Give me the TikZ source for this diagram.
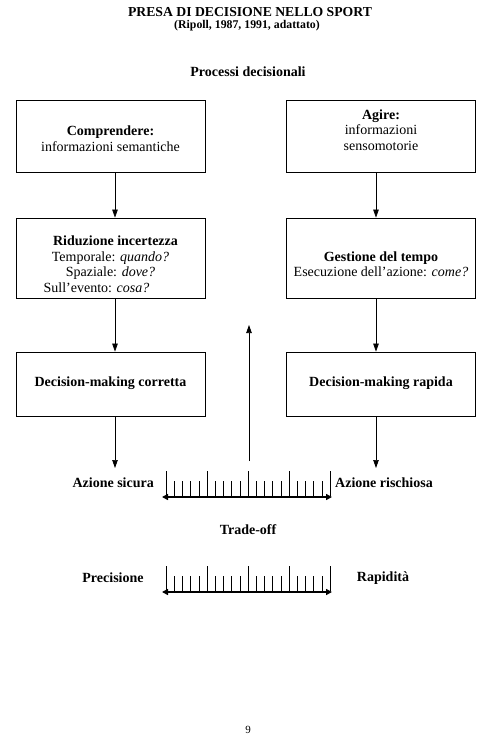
\documentclass[tikz,border=0pt]{standalone}
\usepackage{fontspec}
\setmainfont{Liberation Serif}
\usetikzlibrary{arrows.meta}
\tikzset{
  boxn/.style={draw, line width=0.8pt, minimum width=189pt, minimum height=#1, inner sep=0pt},
  txt/.style={align=center, font=\fontsize{14}{15.5}\selectfont, inner sep=0pt},
  btxt/.style={align=center, font=\fontsize{14}{15.5}\selectfont\bfseries, inner sep=0pt},
  arr/.style={line width=0.7pt, -{Triangle[length=8pt,width=5.5pt]}},
  darr/.style={line width=1.6pt, {Triangle[length=6pt,width=6pt]}-{Triangle[length=6pt,width=6pt]}},
  tick/.style={line width=0.6pt}
}
\begin{document}
\begin{tikzpicture}[x=1pt,y=-1pt]
\useasboundingbox (0,0) rectangle (487,741);
% titles
\node[btxt, font=\fontsize{13.7}{15}\selectfont\bfseries] (title) at (250,12) {PRESA DI DECISIONE NELLO SPORT};
\node[btxt, font=\fontsize{11.8}{13}\selectfont\bfseries] (sub) at (247,25.5) {(Ripoll, 1987, 1991, adattato)};
\node[btxt] (proc) at (248,72) {Processi decisionali};
% boxes
\node[boxn=72pt] (b1) at (110.5,136) {};
\node[boxn=72pt] (r1) at (381,136) {};
\node[boxn=80pt] (b2) at (110.5,258) {};
\node[boxn=80pt] (r2) at (381,258) {};
\node[boxn=64pt] (b3) at (110.5,384) {};
\node[boxn=64pt] (r3) at (381,384) {};
% box texts
\node[txt] (t1) at (110.5,138.5) {\textbf{Comprendere:}\\informazioni semantiche};
\node[txt] (u1) at (381,130) {\textbf{Agire:}\\informazioni\\sensomotorie};
\node[txt] (t2) at (110.5,264) {\hspace*{10pt}\textbf{Riduzione incertezza}\\Temporale: \textit{quando?}\\Spaziale: \textit{dove?}\\Sull’evento: \textit{cosa?}\hspace*{28pt}};
\node[txt] (u2) at (381,264) {\textbf{Gestione del tempo}\\Esecuzione dell’azione: \textit{come?}};
\node[btxt] (t3) at (110.5,383) {Decision-making corretta};
\node[btxt] (u3) at (381,383) {Decision-making rapida};
% connectors
\draw[arr] ([xshift=4.5pt]b1.south) -- ([xshift=4.5pt]b2.north);
\draw[arr] ([xshift=4.5pt]b2.south) -- ([xshift=4.5pt]b3.north);
\draw[arr] ([xshift=-5pt]r1.south) -- ([xshift=-5pt]r2.north);
\draw[arr] ([xshift=-5pt]r2.south) -- ([xshift=-5pt]r3.north);
\coordinate (e1) at (115,468);
\coordinate (e2) at (376,468);
\draw[arr] ([xshift=4.5pt]b3.south) -- (e1);
\draw[arr] ([xshift=-5pt]r3.south) -- (e2);
\coordinate (c0) at (249,461);
\coordinate (c1) at (249,325);
\draw[arr] (c0) -- (c1);
% scales
\foreach \yo in {0,95}{
  \foreach \i in {0,...,20}{
    \pgfmathsetmacro{\xx}{166+8.2*\i}
    \pgfmathtruncatemacro{\m}{mod(\i,5)}
    \ifnum\m=0
      \draw[tick] (\xx,471+\yo) -- (\xx,496+\yo);
    \else
      \draw[tick] (\xx,481+\yo) -- (\xx,496+\yo);
    \fi
  }
}
\coordinate (s1a) at (162,497);
\coordinate (s1b) at (332,497);
\draw[darr] (s1a) -- (s1b);
\coordinate (s2a) at (162,592);
\coordinate (s2b) at (332,592);
\draw[darr] (s2a) -- (s2b);
% labels
\node[btxt, anchor=east] (sic) at (154,483) {Azione sicura};
\node[btxt, anchor=west] (ris) at (335,483) {Azione rischiosa};
\node[btxt] (trade) at (248,530) {Trade-off};
\node[btxt] (prec) at (113,578) {Precisione};
\node[btxt] (rap) at (383,578) {Rapidità};
\node[txt, font=\fontsize{11}{13}\selectfont] (page) at (248,730) {9};
\end{tikzpicture}
\end{document}
